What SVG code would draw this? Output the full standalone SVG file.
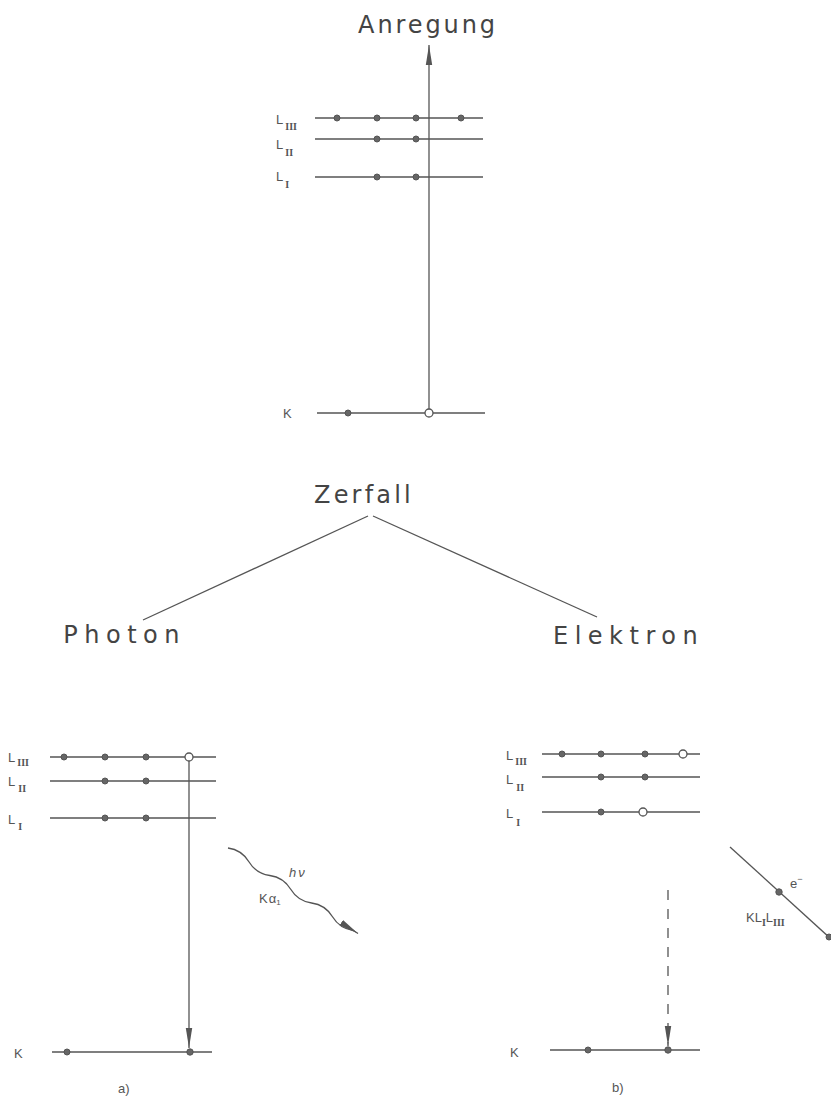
<svg xmlns="http://www.w3.org/2000/svg" width="831" height="1097" viewBox="0 0 831 1097">
<style>
.lvl{stroke:#555;stroke-width:1.6;fill:none}
.ln{stroke:#555;stroke-width:1.3;fill:none}
.dot{fill:#666;stroke:#555;stroke-width:1}
.hole{fill:#fff;stroke:#555;stroke-width:1.3}
.big{font-family:"DejaVu Sans","Liberation Sans",sans-serif;font-size:24px;fill:#444}
.lab{font-family:"Liberation Sans",Arial,sans-serif;font-size:13px;fill:#555}
.sub{font-family:"Liberation Serif",serif;font-size:10px;fill:#555;font-weight:bold}
</style>
<defs>
<marker id="ah" viewBox="0 0 20 8" refX="20" refY="4" markerWidth="20" markerHeight="8" markerUnits="userSpaceOnUse" orient="auto">
<path d="M0,0.8 L20,4 L0,7.2 Z" fill="#555"/>
</marker>
</defs>
<rect width="831" height="1097" fill="#fff"/>

<g id="title-anregung"><text class="big" x="428" y="33" text-anchor="middle" letter-spacing="2.9">Anregung</text></g>

<g id="top-levels">
<line class="lvl" x1="315" y1="118" x2="483" y2="118"/>
<line class="lvl" x1="315" y1="139" x2="483" y2="139"/>
<line class="lvl" x1="315" y1="177" x2="483" y2="177"/>
<line class="lvl" x1="317" y1="413" x2="485" y2="413"/>
<circle class="dot" cx="337" cy="118" r="3"/><circle class="dot" cx="377" cy="118" r="3"/><circle class="dot" cx="416" cy="118" r="3"/><circle class="dot" cx="461" cy="118" r="3"/>
<circle class="dot" cx="377" cy="139" r="3"/><circle class="dot" cx="416" cy="139" r="3"/>
<circle class="dot" cx="377" cy="177" r="3"/><circle class="dot" cx="416" cy="177" r="3"/>
<circle class="dot" cx="348" cy="413" r="3"/>
<text class="lab" x="276" y="124">L<tspan class="sub" dx="2" dy="6">III</tspan></text>
<text class="lab" x="276" y="149">L<tspan class="sub" dx="2" dy="7">II</tspan></text>
<text class="lab" x="276" y="181">L<tspan class="sub" dx="2" dy="7">I</tspan></text>
<text class="lab" x="283" y="418">K</text>
</g>

<g id="title-zerfall"><text class="big" x="364" y="503" text-anchor="middle" letter-spacing="3.2">Zerfall</text></g>
<g id="label-photon"><text class="big" x="186" y="643" text-anchor="end" font-size="25" letter-spacing="6.5">Photon</text></g>
<g id="label-elektron"><text class="big" x="553" y="644" font-size="25" letter-spacing="6.5">Elektron</text></g>

<g id="panel-a">
<line class="lvl" x1="50" y1="757" x2="216" y2="757"/>
<line class="lvl" x1="50" y1="781" x2="216" y2="781"/>
<line class="lvl" x1="50" y1="818" x2="216" y2="818"/>
<line class="lvl" x1="52" y1="1052" x2="212" y2="1052"/>
<circle class="dot" cx="64" cy="757" r="3"/><circle class="dot" cx="105" cy="757" r="3"/><circle class="dot" cx="146" cy="757" r="3"/>
<circle class="dot" cx="105" cy="781" r="3"/><circle class="dot" cx="146" cy="781" r="3"/>
<circle class="dot" cx="105" cy="818" r="3"/><circle class="dot" cx="146" cy="818" r="3"/>
<circle class="dot" cx="67" cy="1052" r="3"/><circle class="dot" cx="190" cy="1052" r="3.2"/>
<text class="lab" x="8" y="762">L<tspan class="sub" dx="2" dy="4">III</tspan></text>
<text class="lab" x="8" y="786">L<tspan class="sub" dx="3" dy="6">II</tspan></text>
<text class="lab" x="8" y="824">L<tspan class="sub" dx="3" dy="6">I</tspan></text>
<text class="lab" x="14" y="1058">K</text>
<text class="lab" x="118" y="1093" font-size="15">a)</text>
<text class="lab" x="289" y="877" font-style="italic">h<tspan dx="2">ν</tspan></text>
<text class="lab" x="259" y="903">K<tspan dx="1">α</tspan><tspan font-size="8" dy="2">1</tspan></text>
</g>

<g id="panel-b">
<line class="lvl" x1="542" y1="754" x2="700" y2="754"/>
<line class="lvl" x1="542" y1="777" x2="700" y2="777"/>
<line class="lvl" x1="542" y1="812" x2="700" y2="812"/>
<line class="lvl" x1="550" y1="1050" x2="700" y2="1050"/>
<circle class="dot" cx="562" cy="754" r="3"/><circle class="dot" cx="601" cy="754" r="3"/><circle class="dot" cx="645" cy="754" r="3"/>
<circle class="dot" cx="601" cy="777" r="3"/><circle class="dot" cx="645" cy="777" r="3"/>
<circle class="dot" cx="601" cy="812" r="3"/>
<circle class="dot" cx="588" cy="1050" r="3"/><circle class="dot" cx="668" cy="1050" r="3.2"/>
<text class="lab" x="506" y="760">L<tspan class="sub" dx="2" dy="5">III</tspan></text>
<text class="lab" x="506" y="784">L<tspan class="sub" dx="3" dy="7">II</tspan></text>
<text class="lab" x="506" y="818">L<tspan class="sub" dx="3" dy="8">I</tspan></text>
<text class="lab" x="510" y="1057">K</text>
<text class="lab" x="612" y="1092" font-size="15">b)</text>
<text class="lab" x="790" y="888">e<tspan font-size="9" dy="-6">−</tspan></text>
<text class="lab" x="746" y="922">K<tspan>L</tspan><tspan class="sub" dy="4">I</tspan><tspan dy="-4">L</tspan><tspan class="sub" dy="4">III</tspan></text>
</g>

<g id="connectors">
<line class="ln" x1="429" y1="413" x2="429" y2="45" marker-end="url(#ah)"/>
<line class="ln" x1="368" y1="516" x2="143" y2="620"/>
<line class="ln" x1="373" y1="516" x2="597" y2="617"/>
<line class="ln" x1="189" y1="757" x2="189" y2="1048" marker-end="url(#ah)"/>
<line class="ln" x1="668" y1="890" x2="668" y2="1046" stroke-dasharray="10,9" marker-end="url(#ah)"/>
<path class="ln" d="M228,848 Q241.7,849.9 248.9,861.75 T269.8,875.5 T290.7,889.25 T311.6,903 T332.5,916.75 T353.4,930.5 L358,933.5" marker-end="url(#ah)"/>
<line class="ln" x1="730" y1="847" x2="831" y2="939"/>
<circle class="dot" cx="779" cy="892" r="3.2"/>
<circle class="dot" cx="829" cy="937" r="3"/>
</g>
<g id="holes">
<circle class="hole" cx="429" cy="413" r="4"/>
<circle class="hole" cx="189" cy="757" r="4"/>
<circle class="hole" cx="683" cy="754" r="4"/>
<circle class="hole" cx="643" cy="812" r="4"/>
</g>
</svg>
